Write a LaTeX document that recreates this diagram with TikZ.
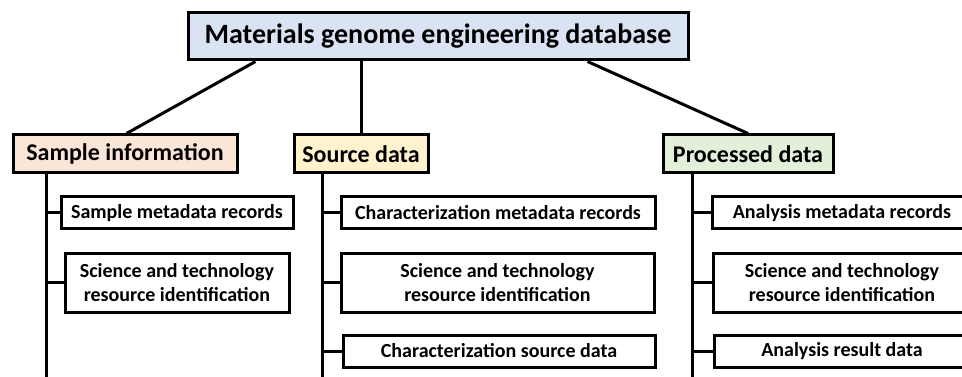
\documentclass[tikz,border=0pt]{standalone}
\usepackage{fontspec}
\setmainfont{Carlito}
\definecolor{topfill}{HTML}{DAE3F3}
\definecolor{samplefill}{HTML}{FBE5D6}
\definecolor{sourcefill}{HTML}{FFF2CC}
\definecolor{procfill}{HTML}{E2F0D9}
\begin{document}
\begin{tikzpicture}[x=1pt,y=-1pt,
  box/.style={draw=black,line width=3pt,inner sep=0pt,align=center,font=\bfseries\fontsize{20}{24}\selectfont,text=black},
  topbox/.style={box,fill=topfill,minimum width=500pt,minimum height=47pt,font=\bfseries\fontsize{28}{32}\selectfont},
  catbox/.style={box,minimum height=38pt,font=\bfseries\fontsize{24}{28}\selectfont},
  leaf/.style={box,fill=white,minimum height=32pt},
  leaftwo/.style={box,fill=white,minimum height=59pt},
  conn/.style={line width=3pt,draw=black}]
\useasboundingbox (0,0) rectangle (962,377);
\clip (0,0) rectangle (962,377);
% top
\node[topbox] (top) at (438,36.5) {Materials genome engineering database};
% categories
\node[catbox,fill=samplefill,minimum width=224pt] (sample) at (125,154) {Sample information};
\node[catbox,fill=sourcefill,minimum width=134pt] (source) at (361,154) {Source data};
\node[catbox,fill=procfill,minimum width=170pt] (proc) at (748,154) {Processed data};
% leaves
\node[leaf,minimum width=232pt] (s1) at (177,213) {Sample metadata records};
\node[leaftwo,minimum width=224pt] (s2) at (177,282.5) {Science and technology\\resource identification};
\node[leaf,minimum width=314pt] (c1) at (498,213) {Characterization metadata records};
\node[leaftwo,minimum width=313pt] (c2) at (497.5,282.5) {Science and technology\\resource identification};
\node[leaf,minimum width=312pt] (c3) at (499,351) {Characterization source data};
\node[leaf,minimum width=260pt] (p1) at (842,213) {Analysis metadata records};
\node[leaftwo,minimum width=258pt] (p2) at (842,282.5) {Science and technology\\resource identification};
\node[leaf,minimum width=256pt] (p3) at (842,351) {Analysis result data};
% spine end points
\coordinate (sEnd) at (46,385);
\coordinate (cEnd) at (322,385);
\coordinate (pEnd) at (692,385);
% top connectors
\draw[conn] ([xshift=69pt]top.south west) -- ([xshift=115pt]sample.north west);
\draw[conn] (source.north |- top.south) -- (source.north);
\draw[conn] ([xshift=401pt]top.south west) -- (proc.north);
% spines
\draw[conn] (sEnd |- sample.south) -- (sEnd);
\draw[conn] (cEnd |- source.south) -- (cEnd);
\draw[conn] (pEnd |- proc.south) -- (pEnd);
% ticks
\draw[conn] (sEnd |- s1.west) -- (s1.west);
\draw[conn] (sEnd |- s2.west) -- (s2.west);
\draw[conn] (cEnd |- c1.west) -- (c1.west);
\draw[conn] (cEnd |- c2.west) -- (c2.west);
\draw[conn] (cEnd |- c3.west) -- (c3.west);
\draw[conn] (pEnd |- p1.west) -- (p1.west);
\draw[conn] (pEnd |- p2.west) -- (p2.west);
\draw[conn] (pEnd |- p3.west) -- (p3.west);
\end{tikzpicture}
\end{document}
